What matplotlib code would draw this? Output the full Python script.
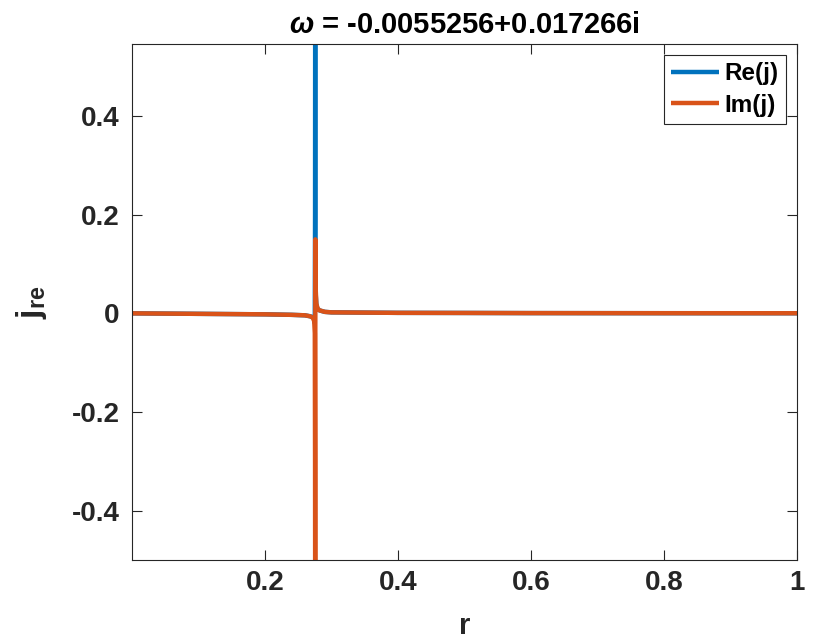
import matplotlib
matplotlib.use("Agg")
import matplotlib.pyplot as plt

plt.rcParams['font.family'] = ['Liberation Sans', 'DejaVu Sans']
plt.rcParams['font.weight'] = 'bold'
plt.rcParams['mathtext.fontset'] = 'custom'
plt.rcParams['mathtext.rm'] = 'Liberation Sans:bold'
plt.rcParams['mathtext.bf'] = 'Liberation Sans:bold'
plt.rcParams['mathtext.it'] = 'Liberation Sans:italic'

title = r'$\mathit{\omega}$ = -0.0055256+0.017266i'

r = [0.0, 0.05, 0.1, 0.15, 0.2, 0.24, 0.26, 0.268, 0.272, 0.274, 0.2749,
     0.2753, 0.2755, 0.2757, 0.2762, 0.2772, 0.279, 0.282, 0.29, 0.3,
     0.35, 0.4, 0.5, 0.6, 0.8, 1.0]
re_j = [0.0, -0.0005, -0.001, -0.0015, -0.002, -0.003, -0.004, -0.006, -0.008, -0.012, -0.02,
        0.2, 0.75, 0.1, 0.04, 0.018, 0.009, 0.006, 0.003, 0.002,
        0.0015, 0.001, 0.0008, 0.0005, 0.0003, 0.0002]
im_j = [0.0, -0.0005, -0.001, -0.0015, -0.002, -0.003, -0.004, -0.006, -0.009, -0.016, -0.04,
        -0.3, -0.7, 0.15, 0.05, 0.02, 0.01, 0.006, 0.003, 0.002,
        0.0015, 0.001, 0.0008, 0.0005, 0.0003, 0.0002]

xticks = [0.2, 0.4, 0.6, 0.8, 1.0]
xticklabels = ['0.2', '0.4', '0.6', '0.8', '1']
yticks = [-0.4, -0.2, 0, 0.2, 0.4]
yticklabels = ['-0.4', '-0.2', '0', '0.2', '0.4']

fig = plt.figure(figsize=(8.21, 6.39), dpi=100)
ax = fig.add_axes([132/821, 1-560/639, (797-132)/821, (560-44)/639])

dark = '#262626'
ax.plot(r, re_j, color='#0072BD', lw=3.2, label='Re(j)', solid_capstyle='butt')
ax.plot(r, im_j, color='#D95319', lw=3.2, label='Im(j)', solid_capstyle='butt')

ax.set_xlim(0.0, 1.0)
ax.set_ylim(-0.5, 0.546)
ax.set_xticks(xticks)
ax.set_xticklabels(xticklabels)
ax.set_yticks(yticks)
ax.set_yticklabels(yticklabels)

ax.tick_params(direction='in', length=7, width=0.8, colors=dark, labelsize=20,
               top=True, right=True, labelcolor=dark)
ax.tick_params(axis='x', pad=7)
ax.tick_params(axis='y', pad=9)
for lab in ax.get_xticklabels() + ax.get_yticklabels():
    lab.set_fontweight('bold')
for s in ax.spines.values():
    s.set_color(dark)
    s.set_linewidth(0.8)

ax.set_title(title, fontsize=21, fontweight='bold', color='black', pad=8)
ax.set_xlabel('r', fontsize=21, fontweight='bold', color=dark, labelpad=12)
ax.set_ylabel(r'$\mathbf{j}_{\mathbf{re}}$', fontsize=24, color=dark, labelpad=16)

leg = ax.legend(loc='upper right', fontsize=17.5, frameon=True, fancybox=False,
                framealpha=1, edgecolor=dark, handlelength=1.95, borderaxespad=0.45,
                handletextpad=0.25, labelspacing=0.35, borderpad=0.3)
leg.get_frame().set_linewidth(0.8)
for t in leg.get_texts():
    t.set_fontweight('bold')

fig.savefig('out.png', dpi=100)
